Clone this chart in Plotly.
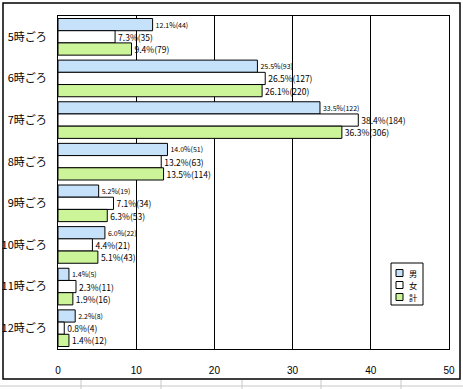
import plotly.graph_objects as go

categories = ["5時ごろ", "6時ごろ", "7時ごろ", "8時ごろ", "9時ごろ", "10時ごろ", "11時ごろ", "12時ごろ"]
male_pct = [12.1, 25.5, 33.5, 14.0, 5.2, 6.0, 1.4, 2.2]
male_n = [44, 93, 122, 51, 19, 22, 5, 8]
female_pct = [7.3, 26.5, 38.4, 13.2, 7.1, 4.4, 2.3, 0.8]
female_n = [35, 127, 184, 63, 34, 21, 11, 4]
total_pct = [9.4, 26.1, 36.3, 13.5, 6.3, 5.1, 1.9, 1.4]
total_n = [79, 220, 306, 114, 53, 43, 16, 12]
x_ticks = [0, 10, 20, 30, 40, 50]

series = [
    ("男", male_pct, male_n, "#c6e2fb", 7),
    ("女", female_pct, female_n, "#ffffff", 8.5),
    ("計", total_pct, total_n, "#ccf59a", 8.5),
]

W, H = 463, 389
L, R, T, B = 58, 14, 16, 40
PW, PH = W - L - R, H - T - B


def px(x):
    return (x - L) / PW


def py(y):
    return (H - B - y) / PH


fig = go.Figure()
for name, pct, n, fill, fs in series:
    fig.add_trace(go.Bar(
        y=categories, x=pct, name=name, orientation="h",
        marker=dict(color=fill, line=dict(color="black", width=1)),
        text=[f"{p:.1f}%({c})" for p, c in zip(pct, n)],
        textposition="outside", constraintext="none", cliponaxis=False,
        textfont=dict(size=fs, color="black", family="Noto Sans CJK JP"),
        showlegend=False,
    ))

fig.update_layout(
    width=W, height=H,
    margin=dict(l=L, r=R, t=T, b=B, autoexpand=False),
    paper_bgcolor="white", plot_bgcolor="white",
    barmode="group", bargap=0.12, bargroupgap=0,
    font=dict(family="Noto Sans CJK JP", size=11, color="black"),
    showlegend=False,
    xaxis=dict(range=[0, 50], tickvals=x_ticks, showgrid=True, gridcolor="black",
               gridwidth=1, zeroline=False, showline=True, linecolor="black",
               mirror=True, ticks="", automargin=False, ticklabelstandoff=12,
               tickfont=dict(size=10, family="Liberation Sans")),
    yaxis=dict(autorange="reversed", showgrid=False, showline=True, linecolor="black",
               mirror=True, ticks="", ticklabelstandoff=8, automargin=False,
               tickfont=dict(size=11)),
)

# outer chart frame
fig.add_shape(type="rect", xref="paper", yref="paper",
              x0=px(3), x1=px(460), y0=py(379), y1=py(3),
              line=dict(color="black", width=1.5), layer="below")

# spreadsheet grid under the chart
fig.add_shape(type="line", xref="paper", yref="paper",
              x0=px(0), x1=px(463), y0=py(386), y1=py(386),
              line=dict(color="#c8c8c8", width=1))
for gx in [81, 161, 242, 321, 401]:
    fig.add_shape(type="line", xref="paper", yref="paper",
                  x0=px(gx), x1=px(gx), y0=py(380), y1=py(389),
                  line=dict(color="#c8c8c8", width=1))

# legend box
fig.add_shape(type="rect", xref="paper", yref="paper",
              x0=px(391), x1=px(423), y0=py(305), y1=py(263),
              line=dict(color="black", width=1), fillcolor="white")
for (name, _, _, fill, _), cy in zip(series, [273, 285, 297]):
    fig.add_shape(type="rect", xref="paper", yref="paper",
                  x0=px(396), x1=px(403), y0=py(cy + 3.5), y1=py(cy - 3.5),
                  line=dict(color="black", width=1), fillcolor=fill)
    fig.add_annotation(xref="paper", yref="paper", x=px(408), y=py(cy),
                       xanchor="left", yanchor="middle", text=name, showarrow=False,
                       borderpad=0, font=dict(size=8.2, color="black"))

fig.write_html("out.html", config={"displayModeBar": False},
               post_script="document.body.style.margin='0';document.body.style.overflow='hidden';")
